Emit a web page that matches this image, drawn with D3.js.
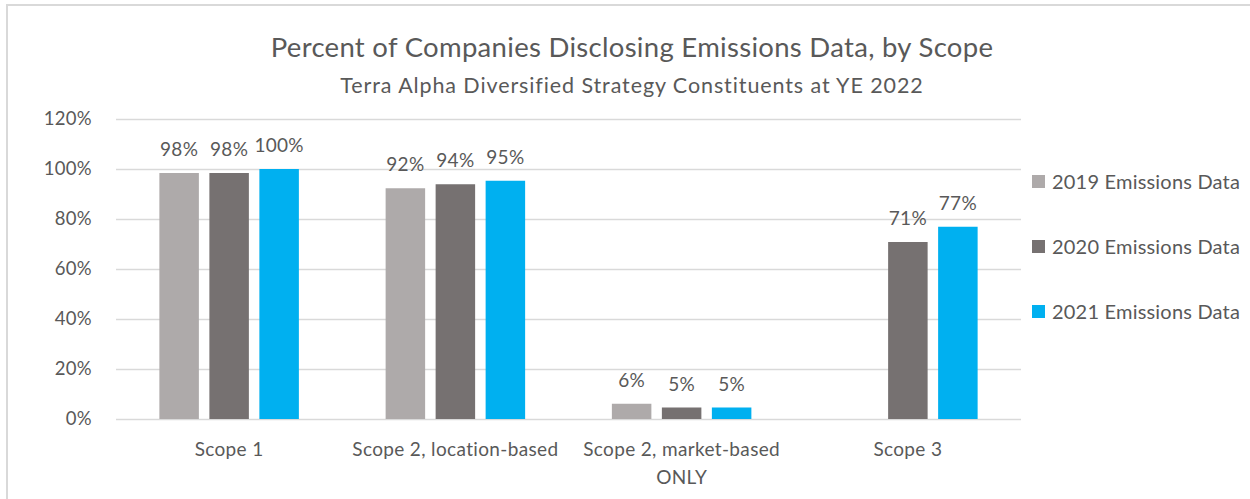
<!DOCTYPE html>
<html>
<head>
<meta charset="utf-8">
<script src="https://cdn.jsdelivr.net/npm/d3@7"></script>
<style>
  body { margin: 0; background: #fff; }
  svg { display: block; font-family: Lato, "Open Sans", sans-serif; }
</style>
</head>
<body>
<div id="chart"></div>
<script>
const categories = [["Scope 1"], ["Scope 2, location-based"], ["Scope 2, market-based", "ONLY"], ["Scope 3"]];
const seriesNames = ["2019 Emissions Data", "2020 Emissions Data", "2021 Emissions Data"];
const values2019 = [98.4, 92.3, 6.1, null];
const values2020 = [98.4, 93.9, 4.6, 70.8];
const values2021 = [100, 95.3, 4.6, 76.9];
const yTicks = [0, 20, 40, 60, 80, 100, 120];
const colors = ["#AEAAAA", "#767171", "#00B0F0"];

const series = [values2019, values2020, values2021];
const width = 1250, height = 499;
const textColor = "#595959";

const svg = d3.select("#chart").append("svg")
  .attr("width", width)
  .attr("height", height);

// chart border (runs past the right and bottom edges)
svg.append("rect")
  .attr("x", 7).attr("y", 5)
  .attr("width", 1300).attr("height", 600)
  .attr("fill", "none")
  .attr("stroke", "#D9D9D9")
  .attr("stroke-width", 2);

svg.append("text")
  .attr("x", 632).attr("y", 57)
  .attr("text-anchor", "middle")
  .attr("fill", textColor)
  .style("font-size", "27.5px")
  .style("letter-spacing", "0.3px")
  .text("Percent of Companies Disclosing Emissions Data, by Scope");

svg.append("text")
  .attr("x", 632).attr("y", 93)
  .attr("text-anchor", "middle")
  .attr("fill", textColor)
  .style("font-size", "21.5px")
  .style("letter-spacing", "0.9px")
  .text("Terra Alpha Diversified Strategy Constituents at YE 2022");

const x = d3.scaleBand()
  .domain(d3.range(categories.length))
  .range([116, 1021]);

const xs = d3.scaleBand()
  .domain(d3.range(series.length))
  .range([0, 150])
  .paddingInner(0.21)
  .paddingOuter(0.105);

const y = d3.scaleLinear()
  .domain([0, 120])
  .range([419, 119]);

// gridlines + y labels
const yAxis = svg.append("g")
  .attr("transform", "translate(116,0)")
  .call(d3.axisLeft(y)
    .tickValues(yTicks)
    .tickSize(-(1021 - 116))
    .tickPadding(24)
    .tickFormat(d => d + "%"));
yAxis.select(".domain").remove();
yAxis.selectAll(".tick line")
  .attr("stroke", "#D9D9D9")
  .attr("stroke-width", 1.5);
yAxis.selectAll(".tick text")
  .attr("fill", textColor)
  .style("font-size", "18.5px")
  .style("letter-spacing", "0.3px")
  .style("font-family", "Lato, 'Open Sans', sans-serif");

const groups = svg.append("g").selectAll("g")
  .data(categories)
  .join("g")
  .attr("transform", (d, i) => `translate(${x(i) + x.bandwidth() / 2 - 75},0)`);

groups.each(function(cat, ci) {
  const g = d3.select(this);
  const pts = series.map((s, si) => ({ si, v: s[ci] })).filter(p => p.v != null);

  g.selectAll("rect")
    .data(pts)
    .join("rect")
    .attr("x", p => xs(p.si))
    .attr("width", xs.bandwidth())
    .attr("y", p => y(p.v))
    .attr("height", p => y(0) - y(p.v))
    .attr("fill", p => colors[p.si]);

  g.selectAll("text.lbl")
    .data(pts)
    .join("text")
    .attr("class", "lbl")
    .attr("x", p => xs(p.si) + xs.bandwidth() / 2)
    .attr("y", p => y(p.v) - 17)
    .attr("text-anchor", "middle")
    .attr("fill", textColor)
    .style("font-size", "19px")
    .style("letter-spacing", "0.3px")
    .text(p => Math.round(p.v) + "%");

  const t = g.append("text")
    .attr("x", 75)
    .attr("y", 456)
    .attr("text-anchor", "middle")
    .attr("fill", textColor)
    .style("font-size", "19px")
    .style("letter-spacing", "0.35px");
  t.selectAll("tspan")
    .data(cat)
    .join("tspan")
    .attr("x", 75)
    .attr("dy", (d, i) => i === 0 ? 0 : 28)
    .text(d => d);
});

// legend
const legend = svg.append("g").selectAll("g")
  .data(seriesNames)
  .join("g")
  .attr("transform", (d, i) => `translate(1032,${182 + i * 65})`);

legend.append("rect")
  .attr("x", 0).attr("y", -7)
  .attr("width", 13).attr("height", 13)
  .attr("fill", (d, i) => colors[i]);

legend.append("text")
  .attr("x", 20).attr("y", 7)
  .attr("fill", textColor)
  .style("font-size", "20px")
  .style("letter-spacing", "0.2px")
  .text(d => d);
</script>
</body>
</html>
